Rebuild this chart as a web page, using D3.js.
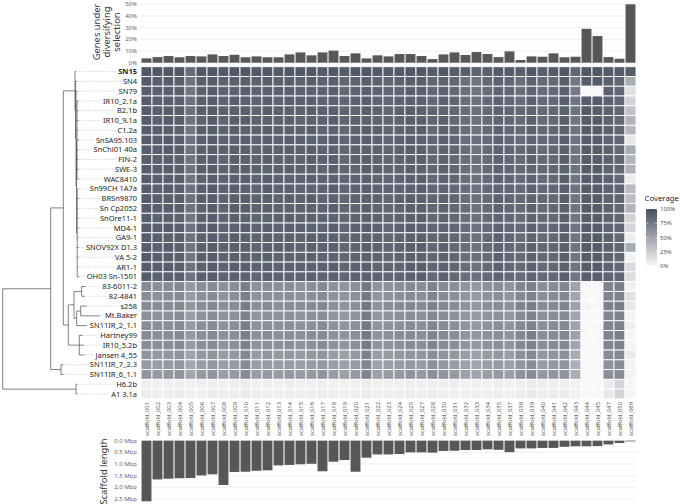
<!DOCTYPE html>
<html><head><meta charset="utf-8">
<script src="https://cdn.jsdelivr.net/npm/d3@7"></script>
<style>body{margin:0;background:#fff} svg{display:block} text{font-family:"Noto Sans",sans-serif}</style>
</head><body><svg id="c" width="680" height="504"></svg>
<script>
const scaffolds = ["scaffold_001","scaffold_002","scaffold_003","scaffold_004","scaffold_005","scaffold_006","scaffold_007","scaffold_008","scaffold_009","scaffold_010","scaffold_011","scaffold_012","scaffold_013","scaffold_014","scaffold_015","scaffold_016","scaffold_017","scaffold_018","scaffold_019","scaffold_020","scaffold_021","scaffold_022","scaffold_023","scaffold_024","scaffold_025","scaffold_027","scaffold_028","scaffold_030","scaffold_031","scaffold_032","scaffold_033","scaffold_034","scaffold_035","scaffold_037","scaffold_038","scaffold_039","scaffold_040","scaffold_041","scaffold_042","scaffold_043","scaffold_044","scaffold_045","scaffold_047","scaffold_050","scaffold_069"];
const selectionPct = [3.7,4.8,5.7,4.6,5.7,5.4,7.1,5.7,6.8,4.6,5.4,4.6,4.6,7.1,8.8,6.3,8.8,10.3,5.7,8.0,3.7,6.3,5.4,7.4,7.4,5.7,3.1,7.1,8.8,6.6,9.1,7.4,4.8,9.7,2.3,5.4,5.1,8.0,4.6,5.1,29.0,22.8,4.8,3.4,50.0];
const scaffoldMbp = [2.6,1.66,1.63,1.61,1.6,1.49,1.44,1.9,1.34,1.33,1.29,1.27,1.06,1.04,1.01,0.99,1.31,0.9,0.83,1.33,0.73,0.59,0.59,0.57,0.5,0.5,0.51,0.44,0.43,0.4,0.4,0.37,0.39,0.49,0.33,0.33,0.31,0.31,0.26,0.24,0.24,0.23,0.16,0.1,0.03];
const strains = ["SN15","SN4","SN79","IR10_2.1a","B2.1b","IR10_9.1a","C1.2a","SnSA95.103","SnChi01 40a","FIN-2","SWE-3","WAC8410","Sn99CH 1A7a","BRSn9870","Sn Cp2052","SnOre11-1","MD4-1","GA9-1","SNOV92X D1.3","VA 5-2","AR1-1","OH03 Sn-1501","83-6011-2","82-4841","s258","Mt.Baker","SN11IR_2_1.1","Hartney99","IR10_5.2b","Jansen 4_55","SN11IR_7_2.3","SN11IR_6_1.1","H6.2b","A1 3.1a"];
const boldStrain = "SN15";
const coverage = [
[95,94,95,94,82,94,95,93,94,94,93,94,93,94,93,94,93,94,92,93,94,93,92,93,94,94,92,93,92,90,88,90,93,92,90,93,90,92,94,86,95,95,93,92,92],
[92,90,91,90,78,90,92,88,90,90,88,90,88,90,88,90,88,90,86,88,90,88,86,88,90,90,86,88,86,80,78,84,88,86,82,88,84,84,90,76,92,92,88,86,45],
[91,89,90,90,77,89,91,88,89,90,88,89,88,90,88,89,88,90,85,88,89,88,86,87,90,89,86,88,85,80,78,83,87,86,82,87,83,84,89,74,0,0,88,85,14],
[92,90,91,89,78,90,91,88,90,89,88,90,87,90,88,90,87,89,86,88,90,87,86,88,89,90,85,88,86,81,79,84,88,85,83,88,84,85,90,77,91,92,88,86,22],
[91,90,90,90,79,90,92,88,89,90,87,90,88,89,88,90,88,90,86,87,90,88,85,88,90,89,86,87,86,82,80,83,88,86,84,87,84,86,89,78,92,91,87,86,32],
[92,89,91,90,78,89,91,87,90,90,88,89,88,90,87,89,88,90,86,88,89,88,86,88,90,90,86,88,85,81,80,84,87,86,83,88,83,85,90,77,91,92,88,85,40],
[91,90,90,89,77,90,92,88,90,89,88,90,88,89,88,90,87,89,85,88,90,88,86,87,89,90,85,88,86,82,79,84,88,85,84,88,84,86,89,78,92,91,88,86,38],
[92,90,91,90,78,90,91,88,89,90,88,90,88,90,88,89,88,90,86,88,90,87,86,88,90,89,86,88,86,81,80,83,88,86,83,87,84,85,90,77,91,92,87,86,10],
[91,90,91,90,79,89,92,88,90,90,87,89,88,90,88,90,88,89,86,88,89,88,86,88,90,90,86,87,86,82,79,84,88,86,84,88,83,86,89,78,92,92,88,85,45],
[92,89,90,89,78,90,91,87,90,89,88,90,87,89,87,90,88,90,85,88,90,88,85,88,89,90,86,88,85,81,80,84,87,85,83,88,84,85,90,77,91,91,88,86,40],
[91,90,91,90,78,90,92,88,89,90,88,89,88,90,88,89,87,90,86,87,90,88,86,87,90,89,86,88,86,82,79,83,88,86,84,87,84,86,89,78,92,92,87,86,42],
[92,90,90,90,77,89,91,88,90,90,88,90,88,89,88,90,88,89,86,88,89,87,86,88,90,90,85,88,86,81,80,84,88,86,83,88,83,85,90,77,91,92,88,85,8],
[91,89,91,89,78,90,92,88,90,89,87,90,88,90,87,89,88,90,86,88,90,88,86,88,89,90,86,87,85,82,79,84,87,85,84,88,84,86,89,78,92,91,88,86,36],
[92,90,90,90,79,90,91,87,89,90,88,89,87,90,88,90,87,89,85,88,89,88,85,88,90,89,86,88,86,81,80,83,88,86,83,87,84,85,90,77,91,92,87,86,35],
[91,90,91,90,78,89,92,88,90,90,88,90,88,89,88,89,88,90,86,87,90,87,86,87,90,90,86,88,86,82,79,84,88,86,84,88,83,86,89,78,92,92,88,85,40],
[92,89,90,89,77,90,91,88,90,89,87,89,88,90,87,90,88,89,86,88,89,88,86,88,89,90,85,88,85,81,80,84,87,85,83,87,84,85,90,77,91,91,88,86,22],
[91,90,91,90,78,90,92,87,89,90,88,90,87,90,88,89,87,90,85,88,90,88,85,88,90,89,86,87,86,82,79,83,88,86,84,88,84,86,89,78,92,92,87,86,20],
[92,90,90,90,79,89,91,88,90,89,88,89,88,89,88,90,88,89,86,88,89,87,86,87,89,90,86,88,86,81,80,84,88,86,83,87,83,85,90,77,91,92,88,85,6],
[91,89,91,89,78,90,92,88,90,90,87,90,88,90,87,89,88,90,86,87,90,88,86,88,90,90,85,88,85,82,79,84,87,85,84,88,84,86,89,78,92,91,88,86,45],
[92,90,90,90,77,90,91,87,89,89,88,89,87,89,88,90,87,89,85,88,89,88,85,88,89,89,86,87,86,81,80,83,88,86,83,87,84,85,90,77,91,92,87,86,3],
[91,90,91,90,78,89,92,88,90,90,88,90,88,90,88,89,88,90,86,88,90,87,86,87,90,90,86,88,86,82,79,84,88,86,84,88,83,86,89,78,92,92,88,85,18],
[92,89,90,89,78,90,91,88,90,89,87,89,88,89,87,90,88,89,86,88,89,88,86,88,89,90,85,88,85,81,80,84,87,85,83,87,84,85,90,77,91,91,88,86,16],
[64,62,64,66,56,63,65,61,63,72,61,63,62,63,61,63,65,61,59,62,76,59,61,63,65,63,69,65,63,59,57,61,63,59,67,71,63,65,67,50,0,0,69,71,4],
[63,61,63,65,55,62,64,60,62,71,60,62,61,62,60,62,64,60,58,61,75,58,60,62,64,62,68,64,62,58,56,60,62,58,66,70,62,64,66,49,0,0,68,70,14],
[65,63,64,66,57,63,66,62,64,73,62,64,62,64,62,64,66,62,60,62,76,60,62,64,66,64,70,66,64,60,58,62,64,60,68,72,64,66,68,52,2,0,70,72,10],
[62,60,62,64,54,61,63,59,61,70,59,61,60,61,59,61,63,59,57,60,74,57,59,61,63,61,67,63,61,57,55,59,61,57,65,69,61,63,65,48,0,0,67,69,3],
[63,61,63,65,55,62,64,60,62,71,60,62,61,62,60,62,64,60,58,61,75,58,60,62,64,62,68,64,62,58,56,60,62,58,66,70,62,64,66,50,0,0,68,70,5],
[64,62,63,65,56,62,65,61,63,72,61,63,61,63,61,63,65,61,59,61,75,59,61,63,65,63,69,65,63,59,57,61,63,59,67,71,63,65,67,51,0,0,69,71,2],
[63,61,63,64,55,62,64,60,62,71,60,62,61,62,60,62,64,60,58,61,74,58,60,62,64,62,68,64,62,58,56,60,62,58,66,70,62,64,66,49,0,0,68,70,2],
[58,56,58,60,50,57,59,55,57,66,55,57,56,57,55,57,59,55,53,56,70,53,55,57,59,57,63,59,57,53,51,55,57,53,61,65,57,59,61,45,0,0,63,65,8],
[56,54,56,58,48,55,57,53,55,64,53,55,54,55,53,55,57,53,51,54,68,51,53,55,57,55,61,57,55,51,49,53,55,51,59,63,55,57,59,43,0,0,61,63,3],
[57,55,57,59,49,56,58,54,56,65,54,56,55,56,54,56,58,54,52,55,69,52,54,56,58,56,62,58,56,52,50,54,56,52,60,64,56,58,60,44,0,0,62,64,3],
[6,5,6,6,5,6,6,5,6,7,5,6,5,6,5,6,6,5,5,5,7,5,5,6,6,6,6,6,6,5,5,5,6,5,6,7,6,6,6,4,0,0,8,20,2],
[7,6,6,7,5,6,7,6,6,8,6,6,6,6,6,6,7,6,5,6,8,5,6,6,7,6,7,6,6,5,5,6,6,5,7,8,6,7,7,4,0,0,9,22,2]
];
// phylogeny: branch lengths (bl) in tree units
const tree = {bl:0, children:[
  {bl:48, children:[
    {bl:12.6, children:[
      {bl:11.7, children:[
        {name:"SN15", bl:1.2},
        {bl:0.5, children:[
          {name:"SN4", bl:1.5},
          {bl:0.5, children:[
            {name:"SN79", bl:1.5},
            {bl:0.5, children:[
              {bl:0.5, children:[
                {name:"IR10_2.1a",bl:1.6},{name:"B2.1b",bl:1.2},{name:"IR10_9.1a",bl:1.4},{name:"C1.2a",bl:1.0},
                {name:"SnSA95.103",bl:1.8},{name:"SnChi01 40a",bl:1.3},{name:"FIN-2",bl:1.1},{name:"SWE-3",bl:1.5},{name:"WAC8410",bl:1.7}]},
              {bl:0.7, children:[
                {name:"Sn99CH 1A7a",bl:1.2},{name:"BRSn9870",bl:1.5},{name:"Sn Cp2052",bl:1.0},{name:"SnOre11-1",bl:1.3},
                {name:"MD4-1",bl:1.6},{name:"GA9-1",bl:1.1},{name:"SNOV92X D1.3",bl:1.4},{name:"VA 5-2",bl:1.2},
                {name:"AR1-1",bl:1.0},{name:"OH03 Sn-1501",bl:1.8}]}
            ]}
          ]}
        ]}
      ]},
      {bl:5, children:[
        {bl:5.7, children:[
          {bl:7.7, children:[{name:"83-6011-2",bl:4},{name:"82-4841",bl:3}]},
          {bl:2.7, children:[
            {bl:4, children:[{name:"s258",bl:6},{name:"Mt.Baker",bl:19}]},
            {name:"SN11IR_2_1.1",bl:10}]}
        ]},
        {bl:11, children:[{name:"Hartney99",bl:3.4},{name:"IR10_5.2b",bl:4.4},{name:"Jansen 4_55",bl:5.4}]}
      ]}
    ]},
    {bl:10.3, children:[{name:"SN11IR_7_2.3",bl:2},{name:"SN11IR_6_1.1",bl:2.5}]}
  ]},
  {bl:73.3, children:[{name:"H6.2b",bl:1},{name:"A1 3.1a",bl:1.2}]}
]};
const selTicks = [0,10,20,30,40,50];
const selMinor = [5,15,25,35,45];
const lenTicks = [0,0.5,1,1.5,2,2.5];
const lenMinor = [0.25,0.75,1.25,1.75,2.25];
const legendTicks = [0,25,50,75,100];

const svg = d3.select("#c");
const X0 = 141, X1 = 636;
const x = d3.scaleBand().domain(scaffolds).range([X0, X1]);
const y = d3.scaleBand().domain(strains).range([66.7, 398.9]);
const color = d3.scaleLinear().domain([0,100]).range(["#f8f8f8","#474e5e"]).interpolate(d3.interpolateRgb);

// ---- top bar panel
const ySel = d3.scaleLinear().domain([0,50]).range([62.7, 4.3]);
const gTop = svg.append("g");
gTop.selectAll("line.mn").data(selMinor).join("line")
  .attr("x1",X0).attr("x2",X1).attr("y1",d=>ySel(d)).attr("y2",d=>ySel(d))
  .attr("stroke","#f3f3f3").attr("stroke-width",0.5);
gTop.selectAll("line.mj").data(selTicks).join("line")
  .attr("x1",X0).attr("x2",X1).attr("y1",d=>ySel(d)).attr("y2",d=>ySel(d))
  .attr("stroke","#e8e8e8").attr("stroke-width",0.7);
gTop.selectAll("rect").data(scaffolds).join("rect")
  .attr("x",d=>x(d)+x.bandwidth()*0.05).attr("width",x.bandwidth()*0.9)
  .attr("y",(d,i)=>ySel(selectionPct[i])).attr("height",(d,i)=>ySel(0)-ySel(selectionPct[i]))
  .attr("fill","#575757");
gTop.selectAll("text").data(selTicks).join("text")
  .attr("x",137).attr("y",d=>ySel(d)).attr("dy","0.35em").attr("text-anchor","end")
  .attr("font-size",6).attr("fill","#666").text(d=>d+"%");
const tt = svg.append("text").attr("transform","translate(106.5,32) rotate(-90)")
  .attr("text-anchor","middle").attr("font-size",9.4).attr("fill","#333");
["Genes under","diversifying","selection"].forEach((s,i)=>tt.append("tspan").attr("x",0).attr("y",(i-1)*10+3.3).text(s));

// ---- heatmap
const cells = [];
strains.forEach((s,r)=>scaffolds.forEach((c,k)=>cells.push({s,c,v:coverage[r][k]})));
svg.append("g").selectAll("rect").data(cells).join("rect")
  .attr("x",d=>x(d.c)).attr("y",d=>y(d.s)).attr("width",x.bandwidth()).attr("height",y.bandwidth())
  .attr("fill",d=>color(d.v)).attr("stroke","#fff").attr("stroke-width",0.9);

// column labels
svg.append("g").selectAll("text").data(scaffolds).join("text")
  .attr("transform",d=>`translate(${x(d)+x.bandwidth()/2},402) rotate(-90)`)
  .attr("text-anchor","end").attr("dy","0.35em").attr("font-size",5.8).attr("fill","#555").text(d=>d);

// row labels
const labs = svg.append("g").selectAll("text").data(strains).join("text")
  .attr("x",137).attr("y",d=>y(d)+y.bandwidth()/2).attr("dy","0.35em").attr("text-anchor","end")
  .attr("font-size",7.5).attr("fill","#222").attr("font-weight",d=>d===boldStrain?"bold":"normal").text(d=>d);
const labStart = {};
labs.each(function(d){ labStart[d] = 137 - this.getComputedTextLength(); });

// ---- tree
const root = d3.hierarchy(tree);
root.each(n=>{ n.depthX = (n.parent? n.parent.depthX : 0) + n.data.bl; });
root.eachAfter(n=>{
  if(!n.children) n.yy = y(n.data.name)+y.bandwidth()/2;
  else n.yy = d3.mean(n.children, c=>c.yy);
});
const tx = d3.scaleLinear().domain([0,100]).range([2.7,102.7]);
const gT = svg.append("g").attr("stroke","#4a4a4a").attr("stroke-width",0.7).attr("fill","none");
root.leaves().forEach(l=>{
  svg.append("line").attr("x1",tx(l.depthX)).attr("x2",labStart[l.data.name]-2).attr("y1",l.yy).attr("y2",l.yy)
    .attr("stroke","#aaa").attr("stroke-width",0.5).attr("stroke-dasharray","1.2,1.2");
});
root.descendants().forEach(n=>{
  if(n.children){
    const ys = n.children.map(c=>c.yy);
    gT.append("line").attr("x1",tx(n.depthX)).attr("x2",tx(n.depthX)).attr("y1",d3.min(ys)).attr("y2",d3.max(ys));
    n.children.forEach(c=>gT.append("line").attr("x1",tx(n.depthX)).attr("x2",tx(c.depthX)).attr("y1",c.yy).attr("y2",c.yy));
  }
});

// ---- bottom bar panel
const yLen = d3.scaleLinear().domain([0,2.5]).range([440.7, 499]);
const gB = svg.append("g");
gB.selectAll("line.mn").data(lenMinor).join("line")
  .attr("x1",X0).attr("x2",X1).attr("y1",d=>yLen(d)).attr("y2",d=>yLen(d))
  .attr("stroke","#f3f3f3").attr("stroke-width",0.5);
gB.selectAll("line.mj").data(lenTicks).join("line")
  .attr("x1",X0).attr("x2",X1).attr("y1",d=>yLen(d)).attr("y2",d=>yLen(d))
  .attr("stroke","#e8e8e8").attr("stroke-width",0.7);
gB.selectAll("rect").data(scaffolds).join("rect")
  .attr("x",d=>x(d)+x.bandwidth()*0.05).attr("width",x.bandwidth()*0.9)
  .attr("y",yLen(0)).attr("height",(d,i)=>yLen(scaffoldMbp[i])-yLen(0))
  .attr("fill","#575757");
gB.selectAll("text").data(lenTicks).join("text")
  .attr("x",137).attr("y",d=>yLen(d)).attr("dy","0.35em").attr("text-anchor","end")
  .attr("font-size",6).attr("fill","#666").text(d=>d.toFixed(1)+" Mbp");
svg.append("text").attr("transform","translate(107,471.5) rotate(-90)")
  .attr("text-anchor","middle").attr("font-size",9.4).attr("fill","#333").text("Scaffold length");

// ---- legend
const lg = svg.append("g");
const yLeg = d3.scaleLinear().domain([0,100]).range([266,209]);
const defs = svg.append("defs");
const grad = defs.append("linearGradient").attr("id","cg").attr("x1",0).attr("x2",0).attr("y1",1).attr("y2",0);
legendTicks.forEach(t=>grad.append("stop").attr("offset",t/100).attr("stop-color",color(t)));
lg.append("text").attr("x",644.5).attr("y",201).attr("font-size",7.8).attr("fill","#222").text("Coverage");
lg.append("rect").attr("x",646).attr("y",yLeg(100)).attr("width",11).attr("height",yLeg(0)-yLeg(100)).attr("fill","url(#cg)");
legendTicks.forEach(t=>{
  lg.append("line").attr("x1",646).attr("x2",648.2).attr("y1",yLeg(t)).attr("y2",yLeg(t)).attr("stroke","#fff").attr("stroke-width",0.5);
  lg.append("line").attr("x1",654.8).attr("x2",657).attr("y1",yLeg(t)).attr("y2",yLeg(t)).attr("stroke","#fff").attr("stroke-width",0.5);
});
lg.selectAll("text.t").data(legendTicks).join("text").attr("class","t")
  .attr("x",660).attr("y",d=>yLeg(d)).attr("dy","0.35em").attr("font-size",6).attr("fill","#555").text(d=>d+"%");
</script>
</body></html>
